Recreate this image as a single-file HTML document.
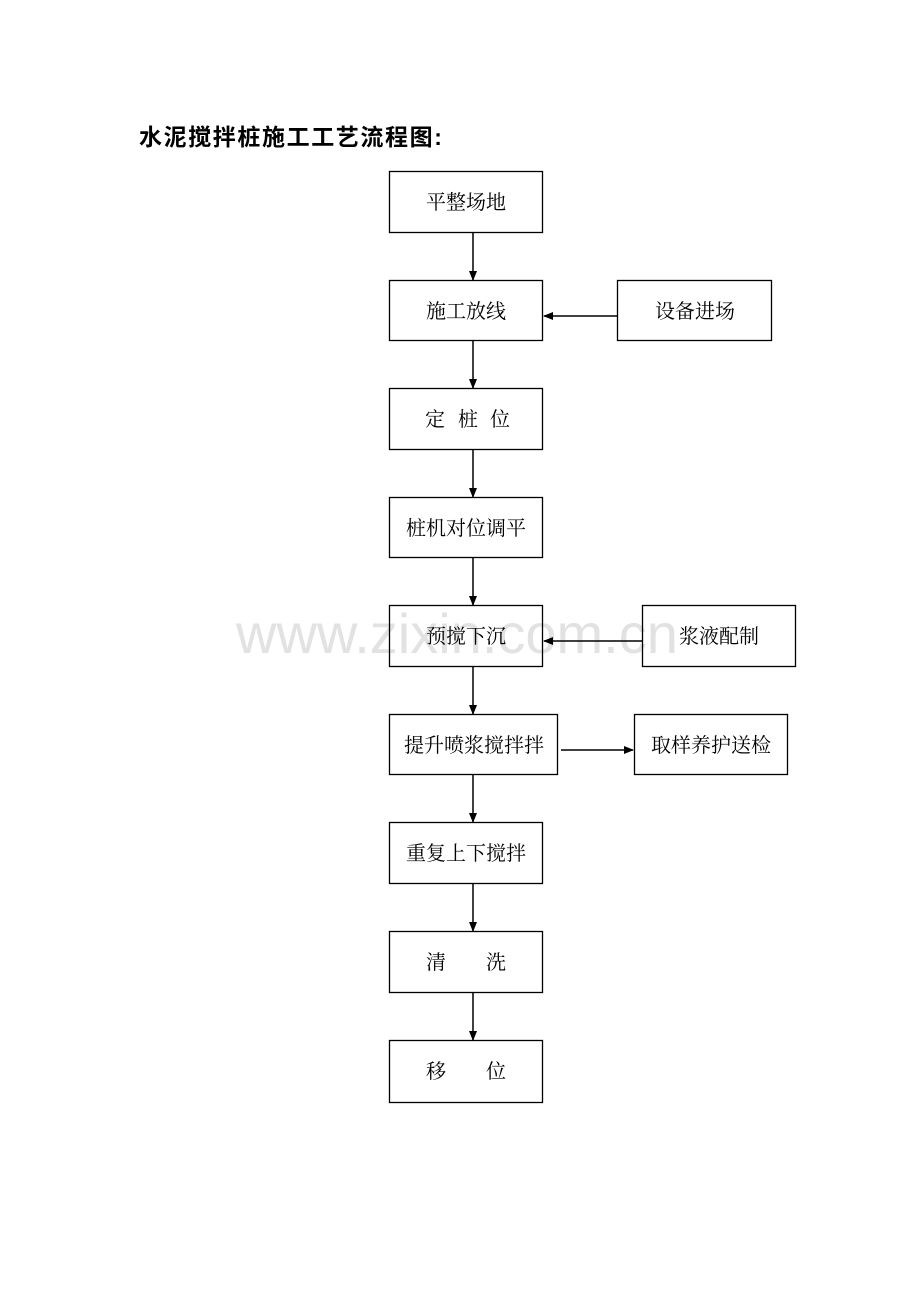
<!DOCTYPE html>
<html><head><meta charset="utf-8"><style>
body{margin:0;background:#fff}
svg text{font-family:"Liberation Serif","Noto Serif CJK SC",serif;font-size:20px;fill:#000}
</style></head><body>
<svg width="920" height="1302" xmlns="http://www.w3.org/2000/svg">
<defs><marker id="a" markerWidth="10" markerHeight="10" refX="9" refY="5" orient="auto" markerUnits="userSpaceOnUse"><path d="M0,1 L10,5 L0,9 z" fill="#000"/></marker></defs>
<text x="236" y="653" style="font-family:'Liberation Sans',sans-serif;font-size:56px;fill:#e2e2e2">www.zixin.com.cn</text>
<text x="139" y="145" style="font-family:'Liberation Sans','Noto Sans CJK SC',sans-serif;font-size:23px;font-weight:bold;letter-spacing:1.6px">水泥搅拌桩施工工艺流程图:</text>
<g fill="none" stroke="#000" stroke-width="1.3">
<rect x="389.5" y="171.5" width="153" height="61"/>
<rect x="389.5" y="280.5" width="153" height="60"/>
<rect x="389.5" y="388.5" width="153" height="61"/>
<rect x="389.5" y="497.5" width="153" height="60"/>
<rect x="389.5" y="605.5" width="153" height="61"/>
<rect x="389.5" y="714.5" width="168" height="60"/>
<rect x="389.5" y="822.5" width="153" height="61"/>
<rect x="389.5" y="931.5" width="153" height="61"/>
<rect x="389.5" y="1040.5" width="153" height="62"/>
<rect x="617.5" y="280.5" width="154" height="60"/>
<rect x="642.5" y="605.5" width="153" height="61"/>
<rect x="634.5" y="714.5" width="153" height="60"/>
</g>
<g stroke="#000" stroke-width="1.5" marker-end="url(#a)">
<line x1="473" y1="233" x2="473" y2="280"/>
<line x1="473" y1="341" x2="473" y2="388"/>
<line x1="473" y1="450" x2="473" y2="497"/>
<line x1="473" y1="558" x2="473" y2="605"/>
<line x1="473" y1="667" x2="473" y2="714"/>
<line x1="473" y1="775" x2="473" y2="822"/>
<line x1="473" y1="884" x2="473" y2="931"/>
<line x1="473" y1="993" x2="473" y2="1040"/>
<line x1="617" y1="316" x2="544" y2="316"/>
<line x1="642" y1="641" x2="544" y2="641"/>
<line x1="561" y1="750" x2="633" y2="750"/>
</g>
<g text-anchor="middle">
<text x="466" y="209">平整场地</text>
<text x="466" y="318">施工放线</text>
<text y="426"><tspan x="435">定</tspan><tspan x="468">桩</tspan><tspan x="500">位</tspan></text>
<text x="466" y="535">桩机对位调平</text>
<text x="466" y="643">预搅下沉</text>
<text x="474" y="752">提升喷浆搅拌拌</text>
<text x="466" y="860">重复上下搅拌</text>
<text x="466" y="969">清　　洗</text>
<text x="466" y="1078">移　　位</text>
<text x="695" y="318">设备进场</text>
<text x="719" y="643">浆液配制</text>
<text x="711" y="752">取样养护送检</text>
</g>
</svg>
</body></html>
